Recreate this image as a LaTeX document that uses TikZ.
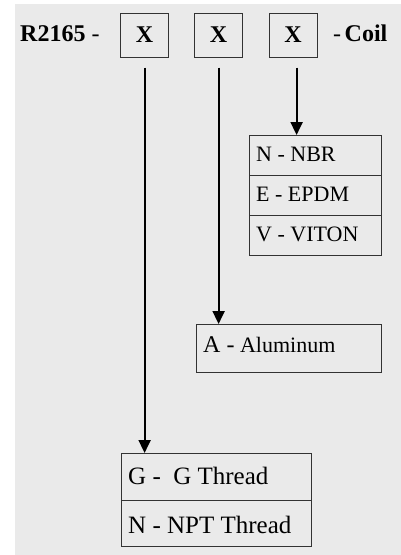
\documentclass[tikz,border=0pt]{standalone}
\usepackage{fontspec}
\setmainfont{Liberation Serif}
\usetikzlibrary{arrows.meta}
\definecolor{bg}{HTML}{EAEAEA}
\definecolor{edge}{HTML}{333333}
\begin{document}
\begin{tikzpicture}[x=1pt,y=-1pt,
  box/.style={draw=edge, line width=1.2pt, inner sep=0pt, anchor=north west},
  xbox/.style={box, minimum width=48pt, minimum height=44pt, font=\fontsize{24}{28}\selectfont\bfseries},
  lbl/.style={anchor=base west, inner sep=0pt},
  big/.style={font=\fontsize{24}{28}\selectfont},
  thr/.style={font=\fontsize{25}{29}\selectfont},
  mid/.style={font=\fontsize{22}{26}\selectfont},
  arr/.style={line width=2pt, shorten <=10pt, -{Triangle[width=12pt,length=13pt]}}
]
\useasboundingbox (0,0) rectangle (401,555);
\fill[bg] (15,4) rectangle (401,555);

% header
\node[lbl, big] (code) at (20,41.7) {\textbf{R2165} -};
\node[xbox] (b1) at (120,12.5) {X};
\node[xbox] (b2) at (194,12.5) {X};
\node[xbox] (b3) at (268.5,12.5) {X};
\node[lbl, big] (coil) at (333,41.7) {-\kern3.5pt\textbf{Coil}};

% seal material
\node[box, minimum width=132.3pt, minimum height=40pt] (n1) at (248.7,135) {};
\node[box, minimum width=132.3pt, minimum height=40pt] (n2) at (248.7,175) {};
\node[box, minimum width=132.3pt, minimum height=40pt] (n3) at (248.7,215) {};
\node[lbl, mid] (n1t) at (256,161.7) {N - NBR};
\node[lbl, mid] (n2t) at (256,201.7) {E - EPDM};
\node[lbl, mid] (n3t) at (256,241.7) {V - VITON};

% body material
\node[box, minimum width=185.3pt, minimum height=47.7pt] (al) at (195.7,324) {};
\node[lbl, big] (alt) at (203,352.7) {A -\fontsize{22}{26}\selectfont\ Aluminum};

% port thread
\node[box, minimum width=190.3pt, minimum height=47pt] (g1) at (120.7,453) {};
\node[box, minimum width=190.3pt, minimum height=45.7pt] (g2) at (120.7,500) {};
\node[lbl, thr] (g1t) at (128,484) {G -\ \ G Thread};
\node[lbl, thr] (g2t) at (128,533) {N - NPT Thread};

% connectors
\draw[arr] (b1.south) -- (b1.south |- g1.north);
\draw[arr] (b2.south) -- (b2.south |- al.north);
\draw[arr] ([xshift=3.5pt]b3.south) -- ([xshift=3.5pt]b3.south |- n1.north);
\end{tikzpicture}
\end{document}
